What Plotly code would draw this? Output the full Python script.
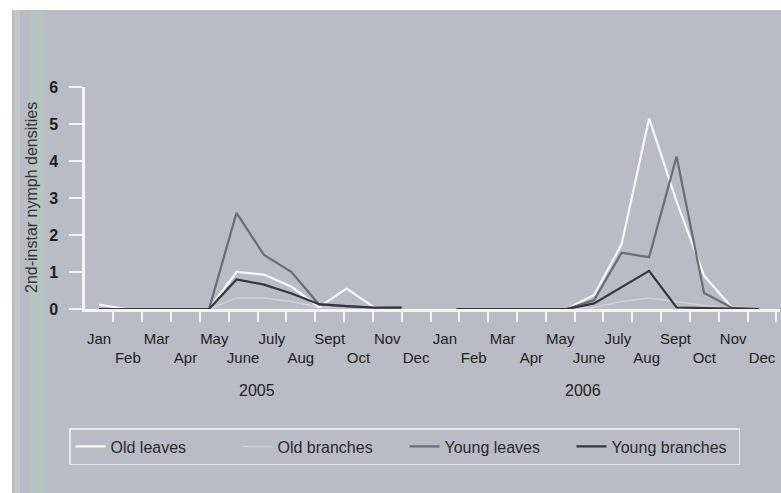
import plotly.graph_objects as go

# ---------------- data ----------------
months = ["Jan", "Feb", "Mar", "Apr", "May", "June", "July", "Aug", "Sept", "Oct", "Nov", "Dec"]
years = ["2005", "2006"]

old_leaves_2005 = [0.12, 0, 0, 0, 0, 1.0, 0.93, 0.6, 0.05, 0.55, 0.05, 0]
old_branches_2005 = [0, 0, 0, 0, 0, 0.3, 0.3, 0.2, 0.05, 0.08, 0, 0]
young_leaves_2005 = [0, 0, 0, 0, 0, 2.6, 1.46, 1.0, 0.12, 0.08, 0.03, 0.03]
young_branches_2005 = [0, 0, 0, 0, 0, 0.8, 0.66, 0.42, 0.13, 0.08, 0.04, 0.04]

old_leaves_2006 = [0, 0, 0, 0, 0, 0.38, 1.75, 5.15, 2.9, 0.9, 0.05, 0]
old_branches_2006 = [0, 0, 0, 0, 0, 0.05, 0.2, 0.3, 0.2, 0.1, 0, 0]
young_leaves_2006 = [0, 0, 0, 0, 0, 0.24, 1.52, 1.4, 4.12, 0.43, 0.04, 0]
young_branches_2006 = [0, 0, 0, 0, 0, 0.15, 0.6, 1.03, 0.04, 0.02, 0, 0]

# ---------------- layout helpers ----------------
BG = "#b8bcc4"
W, H = 781, 493
L, R, T, B = 85, 1, 87, 184
plot_w = W - L - R
plot_h = H - T - B

x05 = list(range(12))
x06 = [13 + i for i in range(12)]
xmin, xmax = -0.51, 24.76
unit = plot_w / (xmax - xmin)


def px_x(px):
    return xmin + (px - L) / unit


def paper_y(py):
    return (H - B - py) / plot_h


def paper_x(px):
    return (px - L) / plot_w


# label positions (evenly spread under the axis, as in the source)
label_step = (px_x(762) - px_x(99)) / 23
tick_labels = months + months
tickvals = [px_x(99) + i * label_step for i in range(24)]
ticktext = [m if i % 2 == 0 else "<br>" + m for i, m in enumerate(tick_labels)]

series = [
    ("Old branches", old_branches_2005, old_branches_2006, "#cfd2d6", 1.5, 2),
    ("Old leaves", old_leaves_2005, old_leaves_2006, "#f7f7f7", 2.2, 1),
    ("Young leaves", young_leaves_2005, young_leaves_2006, "#696d75", 2.2, 3),
    ("Young branches", young_branches_2005, young_branches_2006, "#34373d", 2.2, 4),
]

fig = go.Figure()
for name, v05, v06, color, width, rank in series:
    fig.add_trace(go.Scatter(
        x=x05 + [None] + x06, y=v05 + [None] + v06, mode="lines", name=name,
        line=dict(color=color, width=width), legendrank=rank, connectgaps=False,
    ))

font = "Liberation Sans, Arial, sans-serif"

fig.update_layout(
    width=W, height=H,
    margin=dict(l=L, r=R, t=T, b=B),
    paper_bgcolor=BG, plot_bgcolor=BG,
    font=dict(family=font, color="#222222"),
    showlegend=True,
    legend=dict(
        orientation="h", x=paper_x(69), y=paper_y(428), xanchor="left", yanchor="top",
        bgcolor="rgba(0,0,0,0)", bordercolor="#e4e6ea", borderwidth=1.5,
        font=dict(size=16, color="#2a2a2a"), traceorder="normal",
        entrywidth=122, itemwidth=30,
    ),
    xaxis=dict(
        range=[xmin, xmax], showgrid=False, zeroline=False,
        showline=True, linecolor="#f4f4f4", linewidth=2.5,
        tickmode="array", tickvals=tickvals, ticktext=ticktext,
        ticks="", ticklabelstandoff=14, tickangle=0,
        tickfont=dict(size=15, color="#222222"),
        minor=dict(ticks="outside", tickmode="linear", tick0=px_x(99) + label_step / 2,
                   dtick=label_step, ticklen=10, tickwidth=2, tickcolor="#f4f4f4", showgrid=False),
    ),
    yaxis=dict(
        range=[0, 6], showgrid=False, zeroline=False,
        showline=True, linecolor="#f4f4f4", linewidth=2.5,
        tickmode="array", tickvals=[0, 1, 2, 3, 4, 5, 6],
        ticks="outside", ticklen=13, tickwidth=2, tickcolor="#f4f4f4",
        ticklabelstandoff=8,
        tickfont=dict(size=16, color="#1e1e1e", weight="bold"),
    ),
    shapes=[
        dict(type="rect", xref="paper", yref="paper", x0=paper_x(-5), x1=paper_x(12),
             y0=paper_y(H + 5), y1=paper_y(-5), fillcolor="white", line=dict(width=0), layer="below"),
        dict(type="rect", xref="paper", yref="paper", x0=paper_x(-5), x1=paper_x(W + 5),
             y0=paper_y(10), y1=paper_y(-5), fillcolor="white", line=dict(width=0), layer="below"),
        dict(type="rect", xref="paper", yref="paper", x0=paper_x(14), x1=paper_x(20),
             y0=paper_y(H + 5), y1=paper_y(10), fillcolor="#c3c8cb", line=dict(width=0), layer="below"),
        dict(type="rect", xref="paper", yref="paper", x0=paper_x(30), x1=paper_x(44),
             y0=paper_y(H + 5), y1=paper_y(10), fillcolor="#b7c3be", line=dict(width=0), layer="below"),
    ],
    annotations=[
        dict(text="2nd-instar nymph densities", xref="paper", yref="paper",
             x=paper_x(31), y=0.5, textangle=-90, showarrow=False,
             font=dict(size=16, color="#333333"), xanchor="center", yanchor="middle"),
        dict(text=years[0], xref="x", yref="paper", x=px_x(257), y=paper_y(390),
             showarrow=False, font=dict(size=16, color="#222222"), yanchor="middle"),
        dict(text=years[1], xref="x", yref="paper", x=px_x(583), y=paper_y(390),
             showarrow=False, font=dict(size=16, color="#222222"), yanchor="middle"),
    ],
)

fig.write_html("out.html")
